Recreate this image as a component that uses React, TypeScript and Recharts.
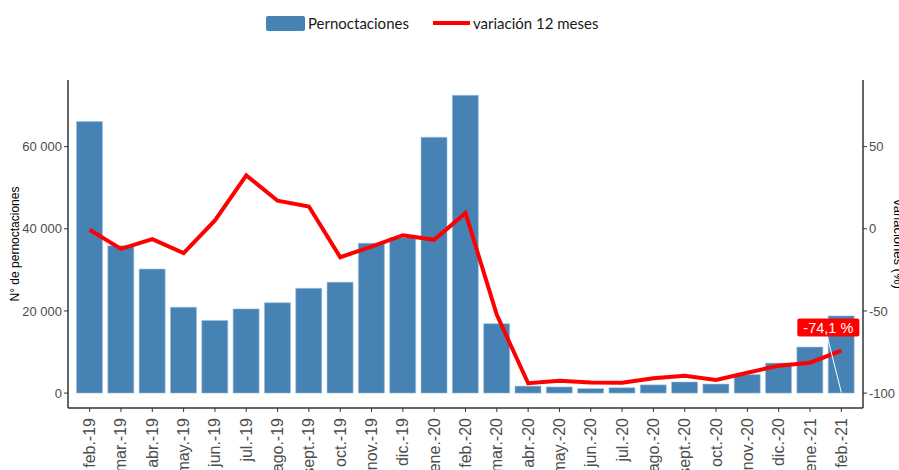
import React from 'react';
import { ComposedChart, Bar, Line, XAxis, YAxis, LabelList } from 'recharts';

const categories = ['feb.-19', 'mar.-19', 'abr.-19', 'may.-19', 'jun.-19', 'jul.-19', 'ago.-19', 'sept.-19', 'oct.-19', 'nov.-19', 'dic.-19', 'ene.-20', 'feb.-20', 'mar.-20', 'abr.-20', 'may.-20', 'jun.-20', 'jul.-20', 'ago.-20', 'sept.-20', 'oct.-20', 'nov.-20', 'dic.-20', 'ene.-21', 'feb.-21'];
const pernoctaciones = [66100, 35900, 30200, 20900, 17700, 20500, 22000, 25500, 27000, 36500, 37900, 62300, 72500, 16900, 1700, 1500, 1100, 1300, 2000, 2700, 2200, 4500, 7300, 11200, 18800];
const variacion = [-0.6, -12.2, -6.3, -14.8, 5.1, 32.5, 17.1, 13.6, -17.3, -10.8, -3.9, -6.7, 9.6, -52.4, -94, -92.5, -93.5, -93.7, -91, -89.5, -92, -87.6, -83.3, -81.5, -74.1];
const leftTicks = [0, 20000, 40000, 60000];
const rightTicks = [-100, -50, 0, 50];

const data = categories.map((c, i) => ({ cat: c, pern: pernoctaciones[i], vari: variacion[i] }));

const fmtThousands = (v: number) => String(v).replace(/\B(?=(\d{3})+(?!\d))/g, ' ');
const fmtPct = (v: number) => String(v).replace('.', ',') + ' %';

const LastLabel = (props: any) => {
  const { x, y, index, value } = props;
  if (index !== variacion.length - 1) return null;
  return (
    <g>
      <line x1={x - 14} y1={y - 14} x2={x} y2={y + 42} stroke="#ffffff" strokeWidth={1} />
      <rect x={x - 44} y={y - 32} width={62} height={18} rx={2} ry={2} fill="#ff0000" />
      <text x={x - 13} y={y - 18} textAnchor="middle" fill="#ffffff" fontSize={14.5} fontFamily="Liberation Sans, Arial, sans-serif">
        {fmtPct(value)}
      </text>
    </g>
  );
};

const tickStyle = { fill: '#4d4d4d', fontSize: 13, fontFamily: 'Liberation Sans, Arial, sans-serif' };

export default function App() {
  return (
    <div style={{ position: 'absolute', left: 0, top: 0, width: 899, height: 470, background: '#ffffff', overflow: 'hidden' }}>
      <div style={{ position: 'absolute', left: 0, top: 0, width: 899, height: 40, fontFamily: 'Lato, sans-serif', fontSize: 15, color: '#1a1a1a' }}>
        <div style={{ position: 'absolute', left: 266, top: 16, width: 39, height: 15, background: '#4682b4', borderRadius: 2 }} />
        <div style={{ position: 'absolute', left: 308, top: 13, lineHeight: '20px' }}>Pernoctaciones</div>
        <div style={{ position: 'absolute', left: 433, top: 21, width: 37, height: 4, background: '#ff0000' }} />
        <div style={{ position: 'absolute', left: 473, top: 13, lineHeight: '20px' }}>variación 12 meses</div>
      </div>
      <ComposedChart
        width={899}
        height={470}
        data={data}
        margin={{ top: 80, right: 0, bottom: 0, left: 0 }}
        barCategoryGap="8%"
        style={{ position: 'absolute', left: 0, top: 0 }}
      >
        <XAxis
          dataKey="cat"
          height={62}
          padding={{ left: 6, right: 6 }}
          interval={0}
          tickLine={{ stroke: '#333333' }}
          axisLine={{ stroke: '#333333', strokeWidth: 1.5 }}
          tickSize={4}
          tick={(p: any) => (
            <text
              x={p.x}
              y={p.y + 4}
              transform={`rotate(-90, ${p.x}, ${p.y + 4})`}
              textAnchor="end"
              dominantBaseline="central"
              fill="#4d4d4d"
              fontSize={16}
              fontFamily="Liberation Sans, Arial, sans-serif"
            >
              {p.payload.value}
            </text>
          )}
        />
        <YAxis
          yAxisId="left"
          orientation="left"
          width={68}
          domain={[-3630, 76230]}
          ticks={leftTicks}
          allowDataOverflow
          tickFormatter={fmtThousands}
          tick={tickStyle}
          tickSize={4}
          tickLine={{ stroke: '#333333' }}
          axisLine={{ stroke: '#333333', strokeWidth: 1.5 }}
          label={{ value: 'N° de pernoctaciones', angle: -90, position: 'insideLeft', offset: 15, style: { fill: '#000000', fontSize: 12, fontFamily: 'Liberation Sans, Arial, sans-serif', textAnchor: 'middle' } }}
        />
        <YAxis
          yAxisId="right"
          orientation="right"
          width={36}
          domain={[-109.075, 90.575]}
          ticks={rightTicks}
          allowDataOverflow
          tick={tickStyle}
          tickSize={4}
          tickLine={{ stroke: '#333333' }}
          axisLine={{ stroke: '#333333', strokeWidth: 1.5 }}
          label={{ value: 'variaciones (%)', angle: 90, position: 'right', offset: 0, style: { fill: '#000000', fontSize: 13, fontFamily: 'Liberation Sans, Arial, sans-serif', textAnchor: 'middle' } }}
        />
        <Bar yAxisId="left" dataKey="pern" fill="#4682b4" stroke="#9fbfdc" strokeWidth={0.6} isAnimationActive={false} />
        <Line yAxisId="right" dataKey="vari" stroke="#ff0000" strokeWidth={4} dot={false} isAnimationActive={false}>
          <LabelList dataKey="vari" content={<LastLabel />} />
        </Line>
      </ComposedChart>
    </div>
  );
}
